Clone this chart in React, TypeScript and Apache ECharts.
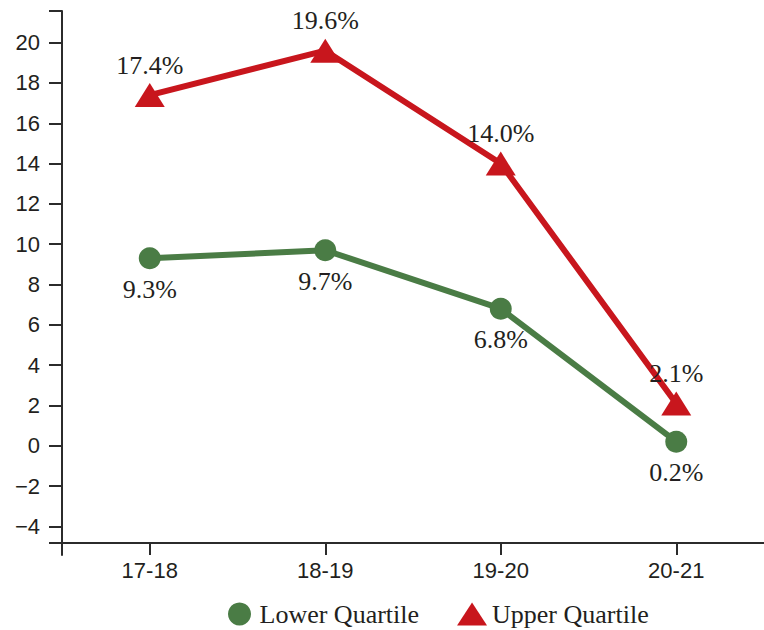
import React, { useEffect, useRef } from "react";
import * as echarts from "echarts";

const categories = ["17-18", "18-19", "19-20", "20-21"];
const lowerQuartile = [9.3, 9.7, 6.8, 0.2];
const upperQuartile = [17.4, 19.6, 14.0, 2.1];
const yLabelValues = [-4, -2, 0, 2, 4, 6, 8, 10, 12, 14, 16, 18, 20];
const yMin = -5.42;
const yMax = 21.57;
const xAxisCross = -4.83;

const GREEN = "#4a7c45";
const RED = "#c8161d";
const TEXT = "#231f20";
const AXIS = "#2b2b2b";

export default function App() {
  const ref = useRef<HTMLDivElement>(null);
  useEffect(() => {
    if (!ref.current) return;
    const chart = echarts.init(ref.current, undefined, { renderer: "svg" });
    const labelStyle = {
      show: true,
      fontFamily: "Liberation Serif",
      fontSize: 26,
      color: TEXT,
      formatter: (p: any) => Number(p.value).toFixed(1) + "%",
    };
    chart.setOption({
      animation: false,
      backgroundColor: "#ffffff",
      grid: { left: 62, top: 11, width: 704, bottom: 75, containLabel: false },
      xAxis: {
        type: "category",
        data: categories,
        boundaryGap: true,
        offset: -12,
        axisLine: { show: true, onZero: false, lineStyle: { color: AXIS, width: 2 } },
        axisTick: { show: true, alignWithLabel: true, length: 12, lineStyle: { color: AXIS, width: 2 } },
        axisLabel: { fontFamily: "Liberation Sans", fontSize: 22, color: TEXT, margin: 16 },
        splitLine: { show: false },
      },
      yAxis: {
        type: "value",
        min: yMin,
        max: yMax,
        axisLine: { show: true, lineStyle: { color: AXIS, width: 2 } },
        axisTick: {
          show: true,
          length: 13,
          lineStyle: { color: AXIS, width: 2 },
          customValues: [xAxisCross, ...yLabelValues, yMax],
        },
        axisLabel: {
          fontFamily: "Liberation Sans",
          fontSize: 22,
          color: TEXT,
          margin: 22,
          customValues: yLabelValues,
          formatter: (v: number) => (v < 0 ? "\u2212" + Math.abs(v) : String(v)),
        },
        splitLine: { show: false },
      },
      legend: {
        left: 228,
        top: 601,
        padding: 0,
        itemWidth: 30,
        itemHeight: 23,
        itemGap: 38,
        textStyle: { fontFamily: "Liberation Serif", fontSize: 26, lineHeight: 26, color: TEXT },
        data: [
          { name: "Lower Quartile", icon: "circle" },
          { name: "Upper Quartile", icon: "triangle" },
        ],
      },
      series: [
        {
          name: "Lower Quartile",
          type: "line",
          data: lowerQuartile,
          symbol: "circle",
          symbolSize: 22,
          lineStyle: { color: GREEN, width: 6 },
          itemStyle: { color: GREEN },
          label: { ...labelStyle, position: "bottom", distance: 7 },
          z: 2,
        },
        {
          name: "Upper Quartile",
          type: "line",
          data: upperQuartile,
          symbol: "triangle",
          symbolSize: [30, 24],
          lineStyle: { color: RED, width: 6 },
          itemStyle: { color: RED },
          label: { ...labelStyle, position: "top", distance: 5 },
          z: 3,
        },
      ],
    });
    return () => chart.dispose();
  }, []);
  return <div ref={ref} style={{ width: 764, height: 630, position: "absolute", left: 0, top: 0 }} />;
}
